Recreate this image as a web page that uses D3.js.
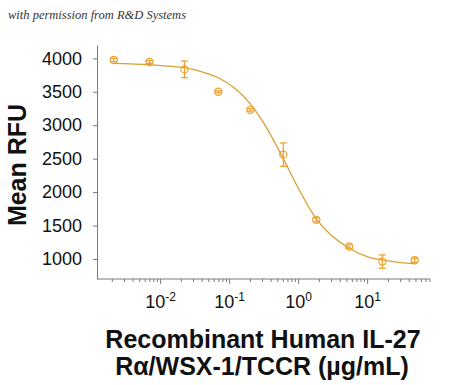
<!DOCTYPE html>
<html lang="en">
<head>
    <meta charset="utf-8">
    <title>IL-27 R alpha dose response</title>
    <script src="https://cdn.jsdelivr.net/npm/d3@7"></script>
    <style>
        body { margin: 0; background: #fff; }
        text { font-family: "Liberation Sans", Arial, sans-serif; }
    </style>
</head>
<body>
<script>

// concentrations (ug/mL)
var conc = [0.0021, 0.0069, 0.0222, 0.0686, 0.2, 0.6, 1.8, 5.4, 16.3, 48];
// mean RFU and error for each point
var rfu = [3975, 3945, 3835, 3500, 3230, 2560, 1585, 1185, 960, 980];
var err = [25, 20, 125, 15, 20, 175, 30, 25, 100, 30];

// fitted curve
var fitConc = [0.0021, 0.0069, 0.0222, 0.045, 0.0686, 0.12, 0.2, 0.3, 0.4, 0.6, 1.0, 1.8, 3, 5.4, 10, 16.3, 30, 48];
var fitRfu  = [3925, 3905, 3860, 3780, 3710, 3550, 3320, 3060, 2840, 2500, 2050, 1600, 1350, 1160, 1030, 985, 945, 930];

var yTicks = [1000, 1500, 2000, 2500, 3000, 3500, 4000];
var xMajor = [0.01, 0.1, 1, 10];
var xExp = ["-2", "-1", "0", "1"];

var w = 450, h = 385;
var markColor = "#EE9E2C";
var lineColor = "#D9A032";
var axisColor = "#7a7a7a";

var svg = d3.select("body").append("svg")
    .attr("width", w)
    .attr("height", h);

var x = d3.scaleLog().domain([0.0012, 80]).range([97, 430]);
var y = d3.scaleLinear().domain([700, 4200]).range([279, 45]);

// watermark
svg.append("text")
    .attr("x", 8)
    .attr("y", 19)
    .style("font-family", "'Liberation Serif', 'DejaVu Serif', serif")
    .style("font-style", "italic")
    .style("font-size", "12.5px")
    .style("fill", "#333")
    .text("with permission from R&D Systems");

// y axis
var yAxis = d3.axisLeft(y)
    .tickValues(yTicks)
    .tickFormat(d3.format("d"))
    .tickSize(4)
    .tickPadding(11)
    .tickSizeOuter(0);

var gy = svg.append("g")
    .attr("transform", "translate(97,0)")
    .call(yAxis);
gy.select(".domain").attr("stroke", axisColor);
gy.selectAll(".tick line").attr("stroke", axisColor);
gy.selectAll(".tick text")
    .style("font-family", "'Liberation Sans', Arial, sans-serif")
    .style("font-size", "18px")
    .style("fill", "#111");

// x axis: minor ticks
var minor = [];
for (var e = -3; e <= 1; e++) {
    for (var m = 2; m <= 9; m++) {
        var v = m * Math.pow(10, e);
        if (v >= 0.0012 && v <= 80) minor.push(v);
    }
}

var gx = svg.append("g")
    .attr("transform", "translate(0,279)");

gx.append("line")
    .attr("x1", 97).attr("x2", 430)
    .attr("stroke", axisColor);

gx.selectAll(".minor")
    .data(minor)
    .enter().append("line")
    .attr("class", "minor")
    .attr("x1", function(d) { return x(d); })
    .attr("x2", function(d) { return x(d); })
    .attr("y1", 0).attr("y2", 3)
    .attr("stroke", axisColor);

gx.selectAll(".major")
    .data(xMajor)
    .enter().append("line")
    .attr("class", "major")
    .attr("x1", function(d) { return x(d); })
    .attr("x2", function(d) { return x(d); })
    .attr("y1", 0).attr("y2", 5)
    .attr("stroke", axisColor);

var lab = gx.selectAll(".lab")
    .data(xMajor)
    .enter().append("text")
    .attr("class", "lab")
    .attr("x", function(d) { return x(d); })
    .attr("y", 29)
    .attr("text-anchor", "middle")
    .style("font-size", "18px")
    .style("fill", "#111");
lab.append("tspan").text("10");
lab.append("tspan")
    .attr("dy", -7)
    .style("font-size", "12px")
    .text(function(d, i) { return xExp[i]; });

// fitted line
var line = d3.line()
    .x(function(d) { return x(d[0]); })
    .y(function(d) { return y(d[1]); })
    .curve(d3.curveCatmullRom);

svg.append("path")
    .datum(d3.zip(fitConc, fitRfu))
    .attr("d", line)
    .attr("fill", "none")
    .attr("stroke", lineColor)
    .attr("stroke-width", 1.3);

// points with error bars
var pts = svg.selectAll(".pt")
    .data(d3.range(conc.length))
    .enter().append("g")
    .attr("class", "pt")
    .attr("stroke", markColor)
    .attr("stroke-width", 1.2)
    .attr("fill", "none");

pts.append("line")
    .attr("x1", function(i) { return x(conc[i]); })
    .attr("x2", function(i) { return x(conc[i]); })
    .attr("y1", function(i) { return y(rfu[i] + err[i]); })
    .attr("y2", function(i) { return y(rfu[i] - err[i]); });

pts.append("line")
    .attr("x1", function(i) { return x(conc[i]) - 3.5; })
    .attr("x2", function(i) { return x(conc[i]) + 3.5; })
    .attr("y1", function(i) { return y(rfu[i] + err[i]); })
    .attr("y2", function(i) { return y(rfu[i] + err[i]); });

pts.append("line")
    .attr("x1", function(i) { return x(conc[i]) - 3.5; })
    .attr("x2", function(i) { return x(conc[i]) + 3.5; })
    .attr("y1", function(i) { return y(rfu[i] - err[i]); })
    .attr("y2", function(i) { return y(rfu[i] - err[i]); });

pts.append("circle")
    .attr("cx", function(i) { return x(conc[i]); })
    .attr("cy", function(i) { return y(rfu[i]); })
    .attr("r", 3.6);

// axis titles
svg.append("text")
    .attr("transform", "translate(26,165) rotate(-90)")
    .attr("text-anchor", "middle")
    .style("font-size", "25px")
    .style("font-weight", "bold")
    .style("fill", "#111")
    .text("Mean RFU");

svg.append("text")
    .attr("x", 263)
    .attr("y", 348)
    .attr("text-anchor", "middle")
    .style("font-size", "25px")
    .style("font-weight", "bold")
    .style("fill", "#111")
    .text("Recombinant Human IL-27");

svg.append("text")
    .attr("x", 262)
    .attr("y", 375)
    .attr("text-anchor", "middle")
    .style("font-size", "25px")
    .style("font-weight", "bold")
    .style("fill", "#111")
    .text("R\u03b1/WSX-1/TCCR (\u00b5g/mL)");

</script>
</body>
</html>
